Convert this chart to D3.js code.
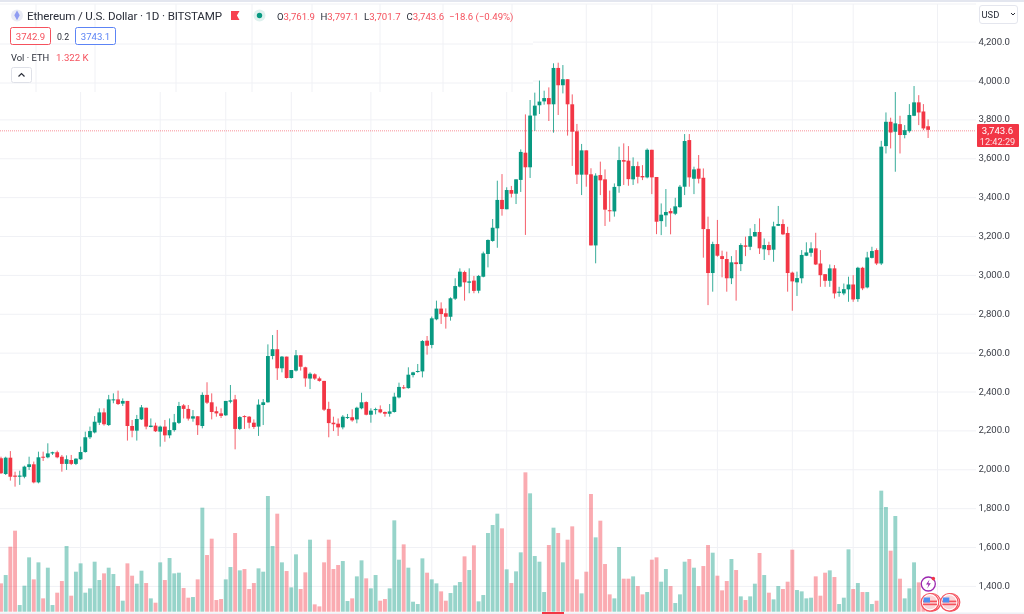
<!DOCTYPE html>
<html>
<head>
<meta charset="utf-8">
<script src="https://cdn.jsdelivr.net/npm/d3@7"></script>
<style>
html,body{margin:0;padding:0;background:#fff;overflow:hidden}
svg{display:block;font-family:Roboto,"Noto Sans",sans-serif;filter:blur(0.35px)}
</style>
</head>
<body>
<div id="chart"></div>
<script>
const opens = [
2054,1973,2057,1965,1959,1959,2009,2023,1930,2062,
2059,2079,2085,2062,2025,2045,2025,2049,2086,2162,
2187,2237,2290,2225,2354,2357,2335,2349,2220,2196,
2254,2314,2215,2222,2191,2217,2172,2199,2236,2326,
2308,2258,2270,2220,2380,2342,2296,2285,2275,2345,
2357,2205,2271,2268,2237,2217,2328,2342,2580,2615,
2517,2577,2467,2505,2584,2522,2464,2486,2465,2452,
2308,2237,2232,2213,2261,2265,2254,2311,2343,2278,
2302,2306,2292,2283,2292,2367,2419,2415,2482,2498,
2501,2659,2637,2769,2824,2800,2782,2875,2937,3012,
2957,2968,2916,2988,3105,3172,3237,3383,3335,3434,
3415,3486,3626,3551,3817,3870,3890,3907,3875,4062,
3973,4004,3875,3736,3513,3638,3515,3149,3511,3489,
3330,3324,3454,3588,3585,3489,3557,3506,3499,3641,
3501,3274,3304,3326,3312,3346,3451,3691,3492,3544,
3497,3233,3007,3156,3094,3079,2980,3062,3053,3149,
3142,3195,3218,3129,3151,3127,3250,3259,3213,3009,
2959,2980,3096,3111,3134,3056,3001,2967,3031,2905,
2902,2923,2948,2873,3034,2933,3085,3125,3056,3660,
3785,3734,3773,3717,3737,3816,3885,3838,3761.9];
const highs = [
2062,2062,2091,1985,1990,2016,2062,2037,2088,2088,
2131,2088,2093,2071,2069,2071,2054,2114,2191,2217,
2271,2311,2311,2380,2388,2402,2362,2349,2251,2277,
2328,2314,2259,2237,2222,2251,2259,2282,2344,2333,
2328,2302,2271,2393,2445,2388,2320,2311,2349,2431,
2380,2271,2275,2271,2254,2357,2359,2640,2688,2714,
2580,2577,2508,2611,2584,2525,2496,2491,2474,2452,
2345,2268,2259,2276,2282,2306,2319,2391,2347,2311,
2314,2326,2295,2333,2391,2443,2431,2522,2499,2539,
2662,2683,2783,2865,2856,2825,2882,2980,3031,3019,
3031,2992,2997,3117,3180,3285,3482,3516,3448,3455,
3489,3643,3823,3897,3935,3997,3945,3962,4086,4089,
4077,4004,3926,3774,3671,3638,3546,3520,3580,3540,
3431,3468,3657,3674,3660,3602,3580,3562,3648,3641,
3501,3365,3439,3340,3394,3460,3722,3722,3554,3614,
3545,3297,3168,3280,3122,3117,3094,3125,3160,3194,
3237,3259,3288,3185,3168,3271,3352,3283,3245,3014,
3014,3125,3165,3165,3214,3125,3001,3051,3048,2936,
2953,2988,2996,3039,3039,3116,3142,3134,3687,3833,
3806,3938,3816,3768,3876,3969,3922,3876,3797.1];
const lows = [
1973,1968,1939,1908,1917,1951,1994,1925,1925,2040,
2054,2071,2054,1985,1994,2019,2019,2045,2083,2153,
2182,2225,2222,2220,2337,2328,2323,2145,2162,2145,
2251,2203,2213,2189,2114,2139,2157,2191,2230,2259,
2248,2242,2174,2208,2333,2254,2268,2261,2272,2337,
2100,2199,2205,2208,2205,2169,2225,2340,2563,2457,
2496,2464,2464,2500,2505,2422,2410,2457,2448,2297,
2162,2194,2169,2203,2256,2242,2234,2306,2275,2237,
2280,2285,2268,2268,2289,2362,2410,2412,2470,2494,
2470,2587,2620,2764,2745,2721,2762,2868,2933,2865,
2903,2903,2903,2985,3036,3168,3137,3302,3335,3396,
3362,3424,3203,3496,3738,3825,3873,3789,3729,3820,
3931,3714,3558,3465,3408,3451,3149,3057,3408,3249,
3271,3297,3420,3460,3456,3460,3468,3485,3494,3413,
3207,3202,3245,3206,3305,3343,3408,3451,3413,3468,
3086,2842,2911,3091,2985,2911,2950,2865,3017,3094,
3125,3194,3105,3074,3099,3065,3249,3202,2911,2813,
2889,2954,3094,3091,3048,2936,2936,2936,2876,2885,
2893,2859,2859,2859,2919,2928,3082,3048,3048,3622,
3648,3528,3622,3700,3729,3814,3768,3742,3701.7];
const closes = [
1977,2057,1959,1959,1965,2011,2023,1930,2059,2057,
2079,2085,2059,2025,2049,2025,2052,2086,2162,2194,
2242,2290,2229,2357,2357,2333,2349,2220,2196,2256,
2316,2217,2222,2193,2217,2172,2199,2239,2323,2308,
2258,2270,2224,2380,2340,2292,2285,2272,2349,2352,
2205,2266,2268,2237,2215,2330,2342,2580,2615,2517,
2577,2467,2508,2584,2525,2465,2489,2464,2452,2304,
2235,2229,2213,2268,2266,2249,2314,2342,2278,2299,
2307,2290,2283,2295,2371,2421,2414,2484,2496,2503,
2657,2633,2774,2824,2796,2782,2877,2940,3014,2959,
2964,2915,2992,3108,3177,3240,3383,3336,3434,3415,
3489,3630,3551,3817,3868,3889,3907,3875,4062,3973,
4004,3875,3734,3513,3638,3513,3149,3508,3484,3333,
3326,3450,3588,3580,3490,3557,3502,3499,3641,3499,
3271,3307,3321,3314,3350,3451,3686,3499,3540,3492,
3233,3007,3156,3096,3079,2980,3062,3053,3151,3142,
3197,3218,3134,3151,3125,3247,3259,3206,3007,2964,
2981,3100,3113,3134,3051,2996,2967,3031,2902,2911,
2924,2948,2871,3034,2928,3087,3120,3056,3657,3785,
3730,3777,3717,3742,3820,3885,3833,3751,3743.6];
const volumes = [
8.5,11.0,19.5,24.3,2.0,7.8,16.3,9.7,14.8,4.0,
13.2,2.0,5.7,9.2,19.7,4.8,12.0,14.5,5.7,7.0,
15.0,9.5,11.5,13.2,11.3,7.7,3.3,14.5,10.8,8.4,
12.3,8.6,4.0,2.7,14.8,9.5,16.1,11.5,11.7,7.1,
4.2,4.4,9.7,31.2,17.0,21.9,3.5,3.8,9.7,13.4,
23.6,12.4,12.8,6.8,8.6,13.0,12.0,34.7,19.7,29.4,
14.8,12.2,7.3,17.2,6.8,11.8,21.6,2.2,1.6,14.8,
21.6,12.8,14.0,15.2,3.2,4.0,10.6,15.4,10.0,7.0,
11.0,3.3,3.8,7.0,27.4,15.6,20.2,13.2,3.0,2.3,
16.0,11.7,9.7,8.5,6.1,3.3,5.6,7.9,8.9,16.6,
12.5,19.9,3.1,5.0,23.6,26.0,29.4,25.0,12.7,8.6,
12.1,17.8,41.8,35.5,16.7,15.0,5.9,20.0,25.2,23.6,
14.8,21.6,25.6,9.7,5.5,12.0,35.3,22.3,27.3,14.3,
5.2,4.0,19.4,9.9,9.9,10.6,7.7,5.2,5.9,15.6,
16.3,9.0,12.8,7.7,2.6,5.2,15.0,15.8,13.2,7.7,
13.7,20.0,17.7,10.8,6.4,9.2,15.8,12.5,4.6,3.5,
4.6,8.4,17.6,11.0,5.7,3.7,7.7,6.8,9.0,18.6,
6.5,6.1,4.0,4.2,10.6,4.8,11.7,12.4,10.4,2.3,
4.2,18.7,6.8,8.6,5.9,5.9,2.3,3.3,36.3,31.4,
18.3,28.7,9.9,4.0,7.0,14.8,8.8,4.0,1.322];
const priceTicks = d3.range(1400, 4201, 200);
const gridBars = [17,34,48,62,79,92,108,125,139,153,169,182,200];

const W = 1024, H = 614;
const GREEN = "#089981", RED = "#f23645", GRID = "#f0f1f5", TXT = "#2a2e39";
const svg = d3.select("#chart").append("svg").attr("width", W).attr("height", H);
svg.append("rect").attr("width", W).attr("height", H).attr("fill", "#fff");

const x = d3.scaleLinear().domain([0, 198]).range([1, 928.1]);
const y = d3.scaleLinear().domain([1400, 4000]).range([585.4, 80]);
const yVol = d3.scaleLinear().domain([0, 44]).range([611.7, 465]);
const plotRight = 976, gridShift = 1;
const bodyW = 3.8, volW = 3.9;

// grid
svg.append("g").selectAll("line").data(priceTicks).join("line")
  .attr("x1", 0).attr("x2", plotRight)
  .attr("y1", d => y(d) + gridShift).attr("y2", d => y(d) + gridShift)
  .attr("stroke", GRID);
svg.append("g").selectAll("line").data(gridBars).join("line")
  .attr("x1", d => x(d)).attr("x2", d => x(d))
  .attr("y1", 4).attr("y2", 612)
  .attr("stroke", GRID);

// volume
const idx = d3.range(opens.length);
const isUp = i => closes[i] >= opens[i];
svg.append("g").selectAll("rect").data(idx).join("rect")
  .attr("x", i => x(i) - volW / 2).attr("width", volW)
  .attr("y", i => yVol(volumes[i])).attr("height", i => yVol(0) - yVol(volumes[i]))
  .attr("fill", i => isUp(i) ? GREEN : RED).attr("opacity", 0.42);

// price line
const lastClose = closes[closes.length - 1];
svg.append("line").attr("x1", 0).attr("x2", plotRight)
  .attr("y1", y(lastClose) + gridShift).attr("y2", y(lastClose) + gridShift)
  .attr("stroke", RED).attr("stroke-opacity", 0.55).attr("stroke-dasharray", "1 1");

// candles
const candles = svg.append("g");
candles.selectAll("line").data(idx).join("line")
  .attr("x1", i => x(i)).attr("x2", i => x(i))
  .attr("y1", i => y(highs[i])).attr("y2", i => y(lows[i]))
  .attr("stroke", i => isUp(i) ? GREEN : RED).attr("stroke-opacity", 0.8);
candles.selectAll("rect").data(idx).join("rect")
  .attr("x", i => x(i) - bodyW / 2).attr("width", bodyW)
  .attr("y", i => y(Math.max(opens[i], closes[i])))
  .attr("height", i => Math.max(1, Math.abs(y(opens[i]) - y(closes[i]))))
  .attr("fill", i => isUp(i) ? GREEN : RED);

// header overlay with its own faint grid
const header = svg.append("g");
header.append("rect").attr("width", 533).attr("height", 92).attr("fill", "#fff");
const headerCols = [36, 95, 176, 252, 312, 380, 443, 512];
const headerRows = [4, 44, 83];
header.selectAll(".hc").data(headerCols).join("line").attr("class", "hc")
  .attr("x1", d => d).attr("x2", d => d).attr("y1", 4).attr("y2", 92).attr("stroke", GRID);
header.selectAll(".hr").data(headerRows).join("line").attr("class", "hr")
  .attr("x1", 0).attr("x2", 533).attr("y1", d => d).attr("y2", d => d).attr("stroke", GRID);

svg.append("rect").attr("x", 0).attr("y", 0).attr("width", W).attr("height", 2).attr("fill", "#e3e6ef");
svg.append("line").attr("x1", 533).attr("x2", plotRight).attr("y1", 4).attr("y2", 4).attr("stroke", GRID);

// axis
const axis = d3.axisRight(y).tickValues(priceTicks).tickSize(0).tickPadding(0)
  .tickFormat(d3.format(",.1f"));
const axisG = svg.append("g").attr("transform", "translate(1010,0)").call(axis);
axisG.select(".domain").remove();
axisG.selectAll("text").attr("text-anchor", "end").attr("font-size", 9.6).attr("fill", "#3a3d46")
  .attr("font-family", "Roboto");

// last price badge
svg.append("rect").attr("x", 977).attr("y", 124).attr("width", 42).attr("height", 23).attr("rx", 1).attr("fill", RED);
svg.append("text").attr("x", 997.5).attr("y", 134).attr("text-anchor", "middle").attr("font-size", 9.6)
  .attr("fill", "#fff").text(d3.format(",.1f")(lastClose));
svg.append("text").attr("x", 997.5).attr("y", 144.5).attr("text-anchor", "middle").attr("font-size", 9.2)
  .attr("fill", "#fde3e5").text("12:42:29");

// currency button
svg.append("rect").attr("x", 979.5).attr("y", 5.5).attr("width", 38).attr("height", 18).attr("rx", 2.5)
  .attr("fill", "#fff").attr("stroke", "#e4e6ee");
svg.append("text").attr("x", 981.5).attr("y", 17.5).attr("font-size", 9.4).attr("fill", TXT).text("USD");
svg.append("path").attr("d", "M1011 13l2 2l2-2").attr("fill", "none").attr("stroke", TXT);

// title row
const legend = svg.append("g");
legend.append("circle").attr("cx", 17).attr("cy", 15.5).attr("r", 6).attr("fill", "#e9ebf5");
legend.append("path").attr("d", "M17 10.5l2.7 4.8l-2.7 5l-2.7-5z").attr("fill", "#8f9cf2");
legend.append("text").attr("x", 27).attr("y", 20).attr("font-size", 11.6).attr("fill", TXT)
  .attr("textLength", 195).text("Ethereum / U.S. Dollar · 1D · BITSTAMP");
legend.append("path").attr("d", "M231 11h8.5l-2.6 4.5l2.6 4.5h-8.5z").attr("fill", "#f7414f");
legend.append("circle").attr("cx", 259.5).attr("cy", 15.5).attr("r", 6).attr("fill", "#def1ee");
legend.append("circle").attr("cx", 259.5).attr("cy", 15.5).attr("r", 2.7).attr("fill", GREEN);

const ohlcLabels = [
  {k: "O", v: "3,761.9", x: 277},
  {k: "H", v: "3,797.1", x: 320.5},
  {k: "L", v: "3,701.7", x: 364},
  {k: "C", v: "3,743.6", x: 406.5}
];
const ohlc = legend.selectAll(".ohlc").data(ohlcLabels).join("text").attr("class", "ohlc")
  .attr("x", d => d.x).attr("y", 19.5).attr("font-size", 9.6);
ohlc.append("tspan").attr("fill", TXT).text(d => d.k);
ohlc.append("tspan").attr("fill", "#f5515d").text(d => d.v);
legend.append("text").attr("x", 449).attr("y", 19.5).attr("font-size", 9.6).attr("fill", "#f5515d")
  .text("−18.6 (−0.49%)");

// bid/ask row
const quotes = [
  {t: "3742.9", x: 10.5, w: 40, c: "#f5515d"},
  {t: "3743.1", x: 75.5, w: 40, c: "#5c84f5"}
];
legend.selectAll(".qb").data(quotes).join("rect").attr("class", "qb")
  .attr("x", d => d.x).attr("y", 27.5).attr("width", d => d.w).attr("height", 17).attr("rx", 2)
  .attr("fill", "#fff").attr("stroke", d => d.c);
legend.selectAll(".qt").data(quotes).join("text").attr("class", "qt")
  .attr("x", d => d.x + d.w / 2).attr("y", 39.7).attr("text-anchor", "middle").attr("font-size", 9.6)
  .attr("fill", d => d.c).text(d => d.t);
legend.append("text").attr("x", 63).attr("y", 39.5).attr("text-anchor", "middle").attr("font-size", 8.8)
  .attr("fill", TXT).text("0.2");

// volume legend
legend.append("text").attr("x", 11).attr("y", 60.5).attr("font-size", 9.4).attr("fill", TXT).text("Vol · ETH");
legend.append("text").attr("x", 56).attr("y", 60.5).attr("font-size", 9.6).attr("fill", "#f5515d").text("1.322 K");
legend.append("rect").attr("x", 11.5).attr("y", 67.5).attr("width", 20).attr("height", 15).attr("rx", 2)
  .attr("fill", "#fff").attr("stroke", "#dfe1e8");
legend.append("path").attr("d", "M18.5 76.5l3-3l3 3").attr("fill", "none").attr("stroke", TXT).attr("stroke-width", 1.2);

// bottom scroll marker
svg.append("rect").attr("x", 0).attr("y", 612.5).attr("width", W).attr("height", 1.5).attr("fill", "#eef0f5");
svg.append("rect").attr("x", 542).attr("y", 612).attr("width", 22).attr("height", 2).attr("fill", RED);

// event icons
const events = svg.append("g");
events.append("circle").attr("cx", 928.3).attr("cy", 584).attr("r", 7).attr("fill", "#fff")
  .attr("stroke", "#9c27b0").attr("stroke-width", 1.3);
events.append("path").attr("d", "M929.5 579.5l-3.5 5h2.5l-1.3 4l3.6-5.2h-2.5z").attr("fill", "#9c27b0");
events.append("circle").attr("cx", 933.3).attr("cy", 578.6).attr("r", 1.8).attr("fill", RED);
const flagCentres = [932, 930, 951, 949.3];
flagCentres.forEach(cx => {
  const g = events.append("g");
  g.append("circle").attr("cx", cx).attr("cy", 602.3).attr("r", 8.8).attr("fill", "#fff").attr("stroke", "#f5515d").attr("stroke-width", 1.2);
  g.append("circle").attr("cx", cx).attr("cy", 602.3).attr("r", 7).attr("fill", "#fbd5d8");
  g.append("rect").attr("x", cx - 7).attr("y", 600.6).attr("width", 14).attr("height", 1.6).attr("fill", "#f5515d");
  g.append("rect").attr("x", cx - 7).attr("y", 603.6).attr("width", 14).attr("height", 1.6).attr("fill", "#f5515d");
  g.append("rect").attr("x", cx - 6.5).attr("y", 597.5).attr("width", 6.5).attr("height", 5).attr("fill", "#4f8ef0");
});
</script>
</body>
</html>
